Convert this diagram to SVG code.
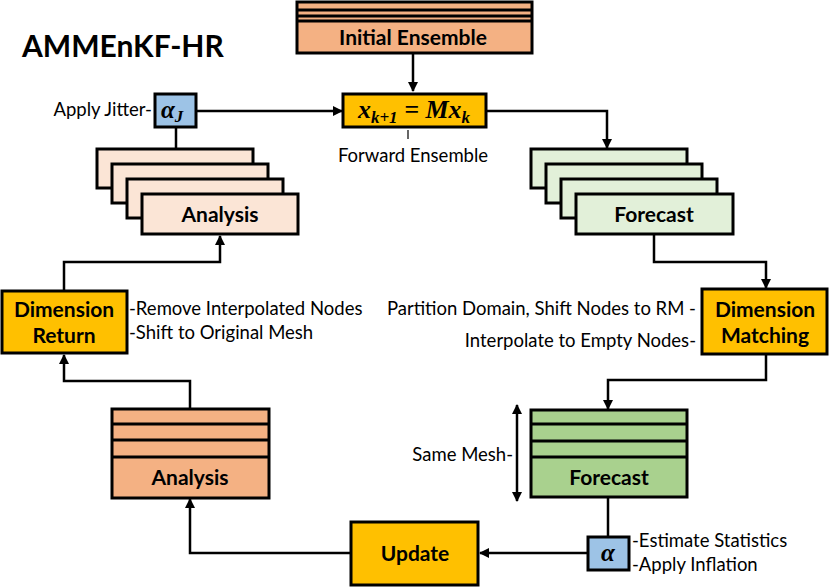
<svg xmlns="http://www.w3.org/2000/svg" width="830" height="587" viewBox="0 0 830 587">
<defs>
<marker id="ah" viewBox="0 0 10 10" refX="9" refY="5" markerWidth="4" markerHeight="4" orient="auto-start-reverse" markerUnits="strokeWidth">
<path d="M0,0 L10,5 L0,10 z" fill="#000"/>
</marker>
<style>
.box{stroke:#000;stroke-width:3}
.or{fill:#F4B183}
.lo{fill:#FBE5D6}
.lg{fill:#E2F0D9}
.dg{fill:#A9D18E}
.ye{fill:#FFC000}
.bl{fill:#9DC3E6}
.t{font-family:Lato,"Open Sans",sans-serif;font-weight:bold;font-size:21px;fill:#000;text-anchor:middle}
.l{font-family:Lato,"Open Sans",sans-serif;font-size:18.5px;fill:#000}
.c{stroke:#000;stroke-width:2.5;fill:none}
.m{font-family:"Liberation Serif","DejaVu Serif",serif;font-weight:bold;font-style:italic;fill:#000}
</style>
</defs>
<text x="22" y="57" style="font-family:Lato,'Open Sans',sans-serif;font-weight:bold;font-size:30px">AMMEnKF-HR</text>
<g id="connectors">
<line class="c" x1="413" y1="54" x2="413" y2="91" marker-end="url(#ah)"/>
<line class="c" x1="197" y1="111" x2="342" y2="111" marker-end="url(#ah)"/>
<polyline class="c" points="486,111 607,111 607,148" marker-end="url(#ah)"/>
<line class="c" x1="176" y1="127" x2="176" y2="149"/>
<polyline class="c" points="64,290 64,262 220,262 220,236" marker-end="url(#ah)"/>
<polyline class="c" points="654,234 654,262 766,262 766,288" marker-end="url(#ah)"/>
<polyline class="c" points="766,354 766,380 608,380 608,409" marker-end="url(#ah)"/>
<line class="c" x1="517" y1="405" x2="517" y2="501" marker-start="url(#ah)" marker-end="url(#ah)"/>
<line class="c" x1="408" y1="130" x2="408" y2="139" style="stroke-width:1.2"/>
<line class="c" x1="608" y1="497" x2="608" y2="537"/>
<line class="c" x1="588" y1="553" x2="480" y2="553" marker-end="url(#ah)"/>
<polyline class="c" points="351,553 190,553 190,499" marker-end="url(#ah)"/>
<polyline class="c" points="190,409 190,381 64,381 64,355" marker-end="url(#ah)"/>
</g>
<g id="initial-ensemble">
<rect class="box or" x="297" y="2" width="235" height="51"/>
<line class="c" x1="297" y1="10" x2="532" y2="10" style="stroke-width:3"/>
<line class="c" x1="297" y1="16" x2="532" y2="16" style="stroke-width:3"/>
<line class="c" x1="297" y1="21" x2="532" y2="21" style="stroke-width:3"/>
<text class="t" x="413" y="45">Initial Ensemble</text>
</g>
<g id="model">
<rect class="box ye" x="343" y="94" width="143" height="33"/>
<text class="m" x="414" y="118" font-size="26" text-anchor="middle">x<tspan font-size="17" dy="5">k+1</tspan><tspan dy="-5"> = Mx</tspan><tspan font-size="17" dy="5">k</tspan></text>
</g>
<text class="l" x="413" y="162" text-anchor="middle">Forward Ensemble</text>
<g id="jitter">
<rect class="box bl" x="155" y="94" width="41" height="33"/>
<text class="m" x="161" y="118" font-size="25">α<tspan font-size="17" dy="4">J</tspan></text>
<text class="l" x="152" y="116" text-anchor="end">Apply Jitter-</text>
</g>
<g id="analysis-ensemble">
<rect class="box lo" x="97" y="149" width="156" height="39"/>
<rect class="box lo" x="112" y="164" width="156" height="39"/>
<rect class="box lo" x="127" y="179" width="156" height="39"/>
<rect class="box lo" x="142" y="194" width="156" height="40"/>
<text class="t" x="220" y="222">Analysis</text>
</g>
<g id="forecast-ensemble">
<rect class="box lg" x="531" y="149" width="156" height="39"/>
<rect class="box lg" x="546" y="164" width="156" height="39"/>
<rect class="box lg" x="561" y="179" width="156" height="39"/>
<rect class="box lg" x="576" y="194" width="157" height="40"/>
<text class="t" x="654" y="222">Forecast</text>
</g>
<g id="dimension-return">
<rect class="box ye" x="2" y="291" width="125" height="62"/>
<text class="t" x="64" y="317">Dimension</text>
<text class="t" x="64" y="343">Return</text>
<text class="l" x="129" y="315">-Remove Interpolated Nodes</text>
<text class="l" x="129" y="339">-Shift to Original Mesh</text>
</g>
<g id="dimension-matching">
<rect class="box ye" x="702" y="289" width="125" height="65"/>
<text class="t" x="765" y="317">Dimension</text>
<text class="t" x="765" y="343">Matching</text>
<text class="l" x="696" y="315" text-anchor="end">Partition Domain, Shift Nodes to RM -</text>
<text class="l" x="696" y="347" text-anchor="end">Interpolate to Empty Nodes-</text>
</g>
<g id="analysis-stack">
<rect class="box or" x="112" y="409" width="157" height="89"/>
<line class="c" x1="112" y1="424" x2="269" y2="424" style="stroke-width:3"/>
<line class="c" x1="112" y1="440" x2="269" y2="440" style="stroke-width:3"/>
<line class="c" x1="112" y1="457" x2="269" y2="457" style="stroke-width:3"/>
<text class="t" x="190" y="485">Analysis</text>
</g>
<g id="forecast-stack">
<rect class="box dg" x="531" y="410" width="156" height="87"/>
<line class="c" x1="531" y1="424" x2="687" y2="424" style="stroke-width:3"/>
<line class="c" x1="531" y1="441" x2="687" y2="441" style="stroke-width:3"/>
<line class="c" x1="531" y1="457" x2="687" y2="457" style="stroke-width:3"/>
<text class="t" x="609" y="485">Forecast</text>
<text class="l" x="513" y="461" text-anchor="end">Same Mesh-</text>
</g>
<g id="update">
<rect class="box ye" x="351" y="522" width="127" height="63"/>
<text class="t" x="415" y="561">Update</text>
</g>
<g id="inflation">
<rect class="box bl" x="588" y="537" width="41" height="33"/>
<text class="m" x="608" y="561" font-size="25" text-anchor="middle">α</text>
<text class="l" x="632" y="547">-Estimate Statistics</text>
<text class="l" x="632" y="571">-Apply Inflation</text>
</g>
</svg>
